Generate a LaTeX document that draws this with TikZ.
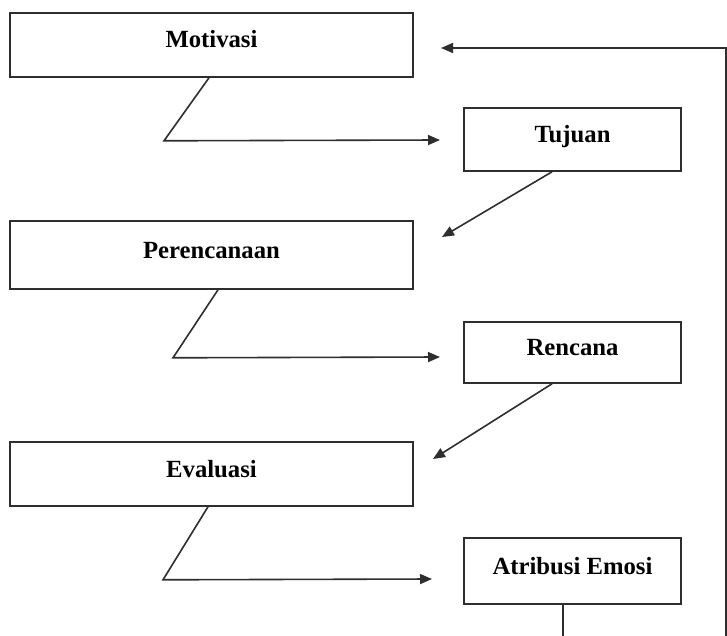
\documentclass[tikz,border=0pt]{standalone}
\usepackage{fontspec}
\setmainfont{Liberation Serif}
\usetikzlibrary{arrows.meta, positioning, calc}
\definecolor{ink}{HTML}{2E2E2E}

\begin{document}
\begin{tikzpicture}[
  x=1pt, y=-1pt,
  wide/.style={rectangle, draw=ink, line width=1.6pt, minimum width=403pt, inner sep=0pt, font=\fontsize{24.7}{28}\selectfont\bfseries, text height=18pt, text depth=12pt},
  narrow/.style={wide, minimum width=217pt},
  arrow/.style={-{Triangle[length=12pt, width=10pt]}, line width=1.6pt, ink}
]
  \fill[white] (0,0) rectangle (727,636);
  \clip (0,0) rectangle (727,636);

  \node[wide, minimum height=64pt] (motivasi) at (211.5,45) {Motivasi};
  \node[narrow, minimum height=63pt] (tujuan) at (572.5,139.5) {Tujuan};
  \node[wide, minimum height=68pt] (perencanaan) at (211.5,255) {Perencanaan};
  \node[narrow, minimum height=61pt] (rencana) at (572.5,352.5) {Rencana};
  \node[wide, minimum height=64pt] (evaluasi) at (211.5,474) {Evaluasi};
  \node[narrow, minimum height=66pt] (atribusi) at (572.5,571) {Atribusi Emosi};

  % arrow ends stop short of the boxes
  \coordinate (tujuanin) at (440,140);
  \coordinate (perencanaanin) at (442,237);
  \coordinate (rencanain) at (440,357);
  \coordinate (evaluasiin) at (433,459);
  \coordinate (atribusiin) at (432,579);
  \coordinate (motivasiin) at (441,48);
  \coordinate (corner) at (726,48);

  \draw[arrow] ([xshift=-2.5pt]motivasi.south) -- ++(-45,63) -- (tujuanin);
  \draw[arrow] ([xshift=-20.5pt]tujuan.south) -- (perencanaanin);
  \draw[arrow] ([xshift=6.5pt]perencanaan.south) -- ++(-45,68) -- (rencanain);
  \draw[arrow] ([xshift=-20.5pt]rencana.south) -- (evaluasiin);
  \draw[arrow] ([xshift=-3.5pt]evaluasi.south) -- ++(-45,73) -- (atribusiin);

  % feedback loop, runs off the bottom edge
  \draw[arrow] ([xshift=-9.5pt]atribusi.south) -- ++(0,56) -| (corner) -- (motivasiin);
\end{tikzpicture}
\end{document}
